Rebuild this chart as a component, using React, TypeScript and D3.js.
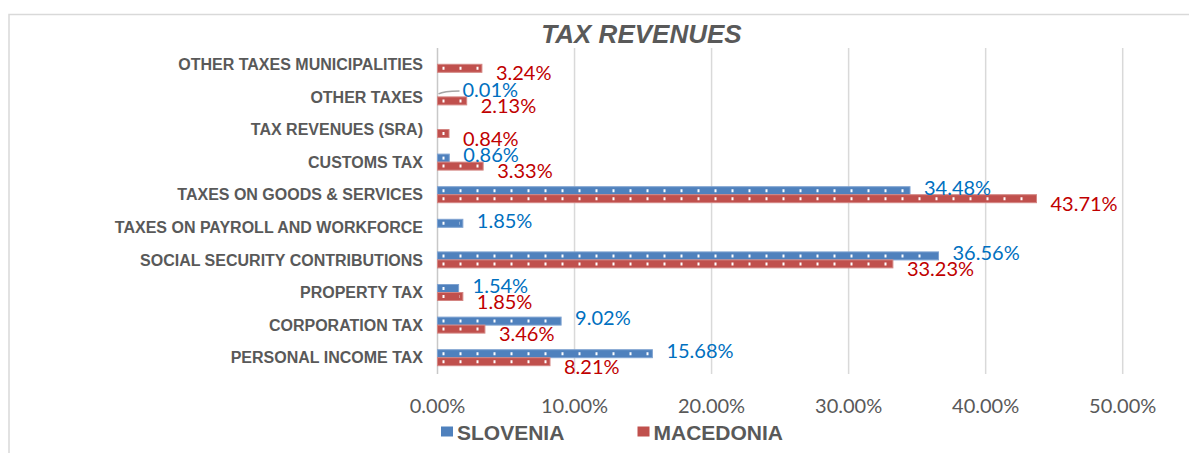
import React, { useEffect, useRef } from 'react';
import * as d3 from 'd3';

// categories top -> bottom, as in the picture
const categories = [
  'OTHER TAXES MUNICIPALITIES',
  'OTHER TAXES',
  'TAX REVENUES (SRA)',
  'CUSTOMS TAX',
  'TAXES ON GOODS & SERVICES',
  'TAXES ON PAYROLL AND WORKFORCE',
  'SOCIAL SECURITY CONTRIBUTIONS',
  'PROPERTY TAX',
  'CORPORATION TAX',
  'PERSONAL INCOME TAX',
];

const slovenia = [null, 0.01, null, 0.86, 34.48, 1.85, 36.56, 1.54, 9.02, 15.68];
const macedonia = [3.24, 2.13, 0.84, 3.33, 43.71, null, 33.23, 1.85, 3.46, 8.21];

const seriesNames = ['SLOVENIA', 'MACEDONIA'];
const xTicks = [0, 10, 20, 30, 40, 50];

const W = 1189;
const H = 453;

const draw = (node) => {
  d3.select(node).selectAll('*').remove();

  const svg = d3.select(node).attr('width', W).attr('height', H);

  const grey = '#595959';
  const barFill = { SLOVENIA: '#4f81bd', MACEDONIA: '#c0504d' };
  const barEdge = { SLOVENIA: '#7fa3d1', MACEDONIA: '#d48683' };
  const labelColor = { SLOVENIA: '#0070c0', MACEDONIA: '#c00000' };
  const labelDy = { SLOVENIA: -3, MACEDONIA: 5 };

  // chart frame
  svg
    .append('rect')
    .attr('x', 9)
    .attr('y', 14.5)
    .attr('width', 1300)
    .attr('height', 600)
    .attr('fill', '#fff')
    .attr('stroke', '#d9d9d9')
    .attr('stroke-width', 1.5);

  const x = d3.scaleLinear().domain([0, 50]).range([437.5, 1122.7]);

  const y = d3.scaleBand().domain(categories).range([48, 374]).padding(0);

  const yInner = d3
    .scaleBand()
    .domain(seriesNames)
    .range([0, y.bandwidth()])
    .paddingInner(0)
    .paddingOuter(1.04);

  // title
  svg
    .append('text')
    .attr('x', 641.5)
    .attr('y', 43)
    .attr('text-anchor', 'middle')
    .attr('font-family', 'Liberation Sans, Arial, sans-serif')
    .attr('font-weight', 'bold')
    .attr('font-style', 'italic')
    .attr('font-size', 26)
    .attr('fill', grey)
    .text('TAX REVENUES');

  // gridlines
  svg
    .append('g')
    .selectAll('line')
    .data(xTicks)
    .enter()
    .append('line')
    .attr('x1', (d) => x(d))
    .attr('x2', (d) => x(d))
    .attr('y1', 48)
    .attr('y2', 374)
    .attr('stroke', (d) => (d === 0 ? '#c8c8c8' : '#d9d9d9'))
    .attr('stroke-width', 1.5);

  // x tick labels
  svg
    .append('g')
    .selectAll('text')
    .data(xTicks)
    .enter()
    .append('text')
    .attr('x', (d) => x(d))
    .attr('y', 413)
    .attr('text-anchor', 'middle')
    .attr('font-family', 'Lato, sans-serif')
    .attr('font-size', 20)
    .attr('fill', grey)
    .text((d) => d3.format('.2f')(d) + '%');

  // category labels
  svg
    .append('g')
    .selectAll('text')
    .data(categories)
    .enter()
    .append('text')
    .attr('x', 423)
    .attr('y', (d) => y(d) + y.bandwidth() / 2)
    .attr('dy', '0.36em')
    .attr('text-anchor', 'end')
    .attr('font-family', 'Liberation Sans, Arial, sans-serif')
    .attr('font-weight', 'bold')
    .attr('font-size', 16)
    .attr('fill', grey)
    .text((d) => d);

  const rows = [];
  categories.forEach((c, i) => {
    [slovenia[i], macedonia[i]].forEach((v, j) => {
      if (v != null) rows.push({ cat: c, key: seriesNames[j], value: v });
    });
  });

  const bars = svg.append('g');

  bars
    .selectAll('rect')
    .data(rows.filter((d) => d.value >= 0.1))
    .enter()
    .append('rect')
    .attr('x', x(0))
    .attr('y', (d) => y(d.cat) + yInner(d.key))
    .attr('width', (d) => x(d.value) - x(0))
    .attr('height', yInner.bandwidth())
    .attr('fill', (d) => barFill[d.key])
    .attr('stroke', (d) => barEdge[d.key])
    .attr('stroke-width', 1);

  // white dotted pattern inside bars
  bars
    .selectAll('line.dots')
    .data(rows.filter((d) => d.value >= 0.1))
    .enter()
    .append('line')
    .attr('class', 'dots')
    .attr('x1', x(0) + 5)
    .attr('x2', (d) => x(d.value) - 3)
    .attr('y1', (d) => y(d.cat) + yInner(d.key) + yInner.bandwidth() / 2)
    .attr('y2', (d) => y(d.cat) + yInner(d.key) + yInner.bandwidth() / 2)
    .attr('stroke', '#fff')
    .attr('stroke-width', 3)
    .attr('stroke-dasharray', '2 15');

  // leader line for near-zero values
  bars
    .selectAll('path.leader')
    .data(rows.filter((d) => d.value < 0.1))
    .enter()
    .append('path')
    .attr('class', 'leader')
    .attr('d', (d) => {
      const cy = y(d.cat) + yInner(d.key) + yInner.bandwidth() / 2;
      return `M${x(0) + 1},${cy + 1} Q${x(0) + 6},${cy - 2} ${x(0) + 22},${cy - 2}`;
    })
    .attr('fill', 'none')
    .attr('stroke', '#a6a6a6')
    .attr('stroke-width', 1.5);

  // data labels
  svg
    .append('g')
    .selectAll('text')
    .data(rows)
    .enter()
    .append('text')
    .attr('x', (d) => (d.value < 0.1 ? x(0) + 25 : x(d.value) + 14))
    .attr('y', (d) => y(d.cat) + yInner(d.key) + yInner.bandwidth() / 2 + labelDy[d.key])
    .attr('dy', '0.36em')
    .attr('font-family', 'Lato, sans-serif')
    .attr('font-size', 20)
    .attr('fill', (d) => labelColor[d.key])
    .text((d) => d3.format('.2f')(d.value) + '%');

  // legend
  const legend = svg
    .append('g')
    .selectAll('g')
    .data(seriesNames)
    .enter()
    .append('g')
    .attr('transform', (d, i) => `translate(${i === 0 ? 441 : 637.5}, 0)`);

  legend
    .append('rect')
    .attr('x', 0)
    .attr('y', 426.5)
    .attr('width', 12)
    .attr('height', 10)
    .attr('fill', (d) => barFill[d]);

  legend
    .append('text')
    .attr('x', 16)
    .attr('y', 439.5)
    .attr('font-family', 'Liberation Sans, Arial, sans-serif')
    .attr('font-weight', 'bold')
    .attr('font-size', 21)
    .attr('fill', grey)
    .text((d) => d);
};

export default function App() {
  const ref = useRef(null);

  useEffect(() => {
    draw(ref.current);
  }, []);

  return (
    <svg
      ref={ref}
      style={{ position: 'absolute', left: 0, top: 0, display: 'block', background: '#fff' }}
    />
  );
}
